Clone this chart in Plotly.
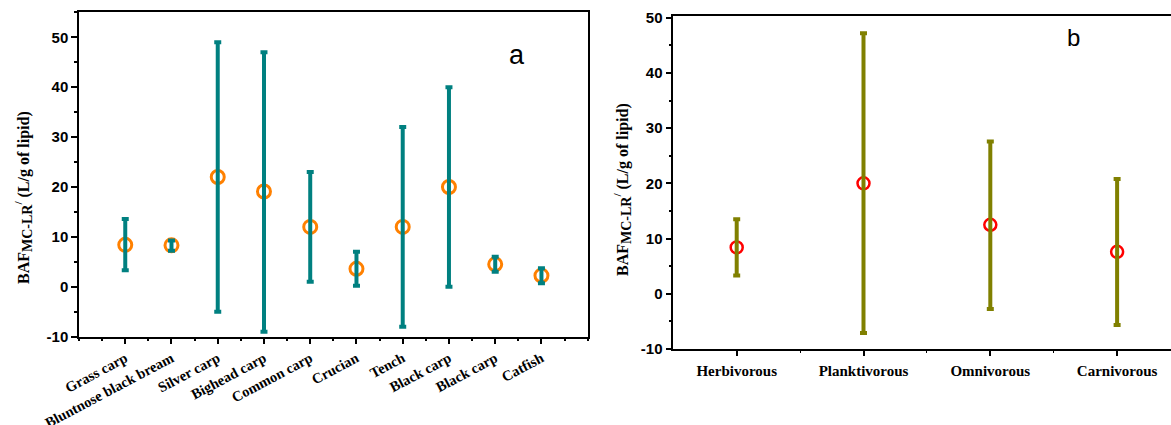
import plotly.graph_objects as go

# Panel a: species
species = ["Grass carp", "Bluntnose black bream", "Silver carp", "Bighead carp",
           "Common carp", "Crucian", "Tench", "Black carp", "Black carp", "Catfish"]
species_pos = [1, 2, 3, 4, 5, 6, 7, 8, 9, 10]
species_mean = [8.4, 8.3, 22.0, 19.1, 12.0, 3.6, 12.0, 20.0, 4.5, 2.25]
species_high = [13.6, 9.3, 49.0, 47.0, 23.0, 7.0, 32.0, 40.0, 6.0, 3.7]
species_low = [3.3, 7.2, -5.0, -9.0, 1.0, 0.2, -8.0, 0.0, 3.0, 0.7]

# Panel b: feeding habits
habits = ["Herbivorous", "Planktivorous", "Omnivorous", "Carnivorous"]
habit_pos = [1, 2, 3, 4]
habit_mean = [8.4, 20.0, 12.5, 7.6]
habit_high = [13.5, 47.2, 27.6, 20.8]
habit_low = [3.3, -7.1, -2.75, -5.65]

y_ticks = [-10, 0, 10, 20, 30, 40, 50]
y_ticktext = ["-10", "0", "10", "20", "30", "40", "50"]

TEAL = "#008080"
ORANGE = "#FF8000"
OLIVE = "#808000"
RED = "#FF0000"
SERIF = "Liberation Serif"
SANS = "Liberation Sans"

fig = go.Figure()

# panel a markers
fig.add_trace(go.Scatter(
    x=species_pos, y=species_mean, mode="markers", xaxis="x", yaxis="y",
    marker=dict(symbol="circle-open", size=13, color=ORANGE, line=dict(width=3, color=ORANGE)),
    showlegend=False, hoverinfo="skip"))
fig.add_trace(go.Scatter(
    x=species_pos, y=species_mean, mode="markers", xaxis="x", yaxis="y",
    marker=dict(size=1, color="rgba(0,0,0,0)"),
    error_y=dict(type="data", symmetric=False,
                 array=[h - m for h, m in zip(species_high, species_mean)],
                 arrayminus=[m - l for m, l in zip(species_mean, species_low)],
                 color=TEAL, thickness=4, width=3.5),
    showlegend=False))

# panel b markers
fig.add_trace(go.Scatter(
    x=habit_pos, y=habit_mean, mode="markers", xaxis="x2", yaxis="y2",
    marker=dict(symbol="circle-open", size=12, color=RED, line=dict(width=2.5, color=RED)),
    showlegend=False, hoverinfo="skip"))
fig.add_trace(go.Scatter(
    x=habit_pos, y=habit_mean, mode="markers", xaxis="x2", yaxis="y2",
    marker=dict(size=1, color="rgba(0,0,0,0)"),
    error_y=dict(type="data", symmetric=False,
                 array=[h - m for h, m in zip(habit_high, habit_mean)],
                 arrayminus=[m - l for m, l in zip(habit_mean, habit_low)],
                 color=OLIVE, thickness=4, width=3.5),
    showlegend=False))

W, H = 1171, 425
axis_common = dict(showgrid=False, zeroline=False, showline=True, linecolor="black",
                   linewidth=1.5, ticks="outside", tickcolor="black", tickwidth=1.5,
                   automargin=False)

fig.update_layout(
    width=W, height=H, margin=dict(l=0, r=0, t=0, b=0, autoexpand=False),
    plot_bgcolor="white", paper_bgcolor="white", showlegend=False,
    xaxis=dict(**axis_common, domain=[79 / W, 587.7 / W], anchor="y",
               range=[0, 11], tickvals=species_pos, ticktext=species, ticklen=6,
               tickangle=-28, mirror=True,
               tickfont=dict(family=SERIF, size=14.5, color="black", weight="bold"),
               minor=dict(tickvals=[0, 0.5, 1.5, 2.5, 3.5, 4.5, 5.5, 6.5, 7.5, 8.5, 9.5, 10.5, 11],
                          ticklen=3, ticks="outside", tickcolor="black", tickwidth=1.5)),
    yaxis=dict(**axis_common, domain=[1 - 336.7 / H, 1 - 12.3 / H], anchor="x",
               range=[-10, 55], tickvals=y_ticks, ticktext=y_ticktext, ticklen=6, mirror=True,
               tickfont=dict(family=SANS, size=15, color="black", weight="bold"),
               minor=dict(dtick=5, tick0=0, ticklen=3, ticks="outside", tickcolor="black", tickwidth=1.5)),
    xaxis2=dict(**axis_common, domain=[673.3 / W, 1.0], anchor="y2",
                range=[0.5, 4.425], tickvals=habit_pos, ticktext=habits, ticklen=5,
                mirror=True, ticklabelstandoff=2,
                tickfont=dict(family=SERIF, size=15, color="black", weight="bold"),
                minor=dict(tickvals=[1.5, 2.5, 3.5], ticklen=2, ticks="outside",
                           tickcolor="black", tickwidth=1)),
    yaxis2=dict(**axis_common, domain=[1 - 349 / H, 1 - 15.7 / H], anchor="x2",
                range=[-10, 50.36], tickvals=y_ticks, ticktext=y_ticktext, ticklen=6,
                tickfont=dict(family=SANS, size=15, color="black", weight="bold"),
                minor=dict(dtick=5, tick0=0, ticklen=3, ticks="outside", tickcolor="black", tickwidth=1.5)),
)

title_text = ("BAF<sub><span style='font-size:14px'>MC-LR</span></sub>"
              "<sup>/</sup> (L/g of lipid)")
fig.add_annotation(x=24 / W, y=1 - 198 / H, xref="paper", yref="paper", text=title_text,
                   textangle=-90, showarrow=False, xanchor="center", yanchor="middle",
                   font=dict(family=SERIF, size=16, color="black", weight="bold"))
fig.add_annotation(x=623 / W, y=1 - 190 / H, xref="paper", yref="paper", text=title_text,
                   textangle=-90, showarrow=False, xanchor="center", yanchor="middle",
                   font=dict(family=SERIF, size=16, color="black", weight="bold"))
fig.add_annotation(x=517 / W, y=1 - 55 / H, xref="paper", yref="paper", text="a",
                   showarrow=False, xanchor="center", yanchor="middle",
                   font=dict(family=SANS, size=27, color="black"))
fig.add_annotation(x=1073 / W, y=1 - 38 / H, xref="paper", yref="paper", text="b",
                   showarrow=False, xanchor="center", yanchor="middle",
                   font=dict(family=SANS, size=24, color="black"))

fig.write_html("out.html")
